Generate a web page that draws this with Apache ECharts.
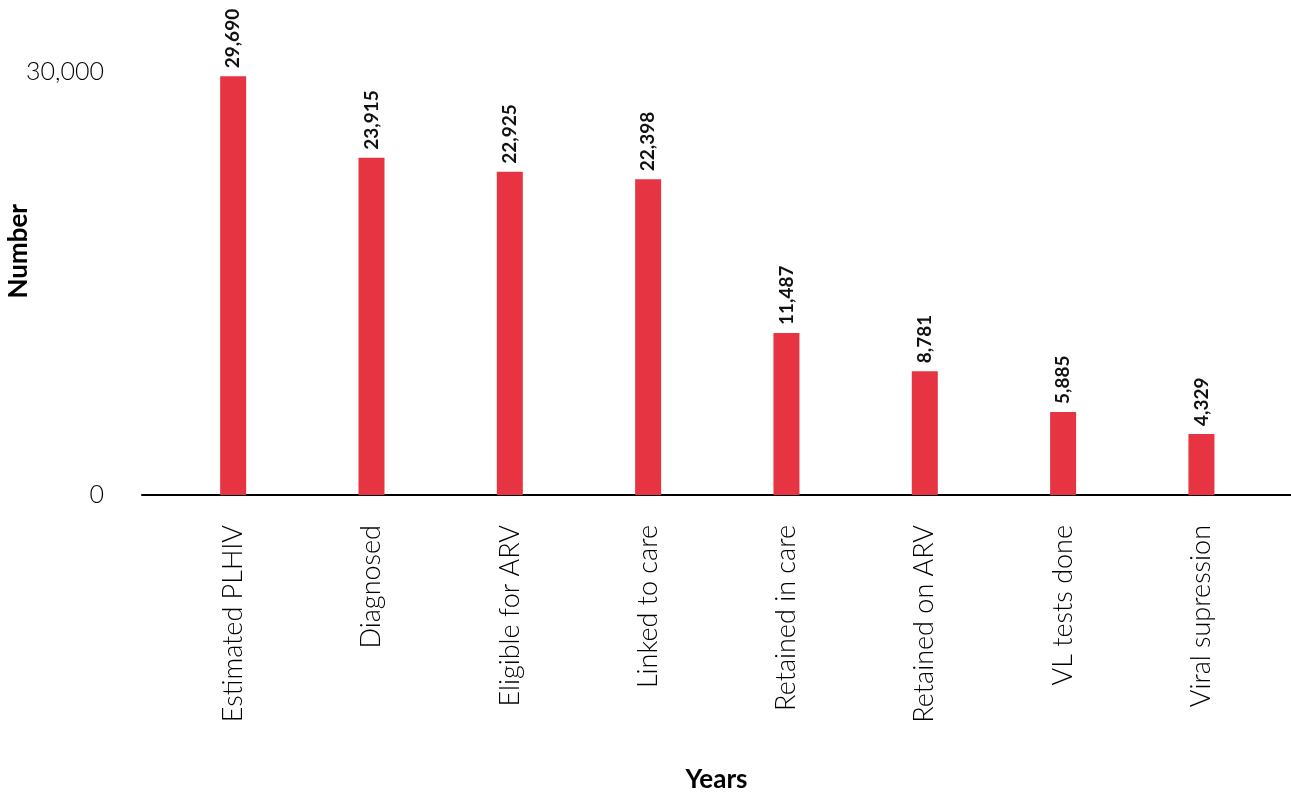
<!DOCTYPE html>
<html>
<head>
<meta charset="utf-8">
<script src="https://cdn.jsdelivr.net/npm/echarts@6/dist/echarts.min.js"></script>
<style>
  html, body { margin: 0; padding: 0; background: #ffffff; }
  #chart { width: 1291px; height: 792px; }
</style>
</head>
<body>
<div id="chart"></div>
<script>
// HIV care cascade: number of people at each stage
const categories = [
  'Estimated PLHIV', 'Diagnosed', 'Eligible for ARV', 'Linked to care',
  'Retained in care', 'Retained on ARV', 'VL tests done', 'Viral supression'
];
const values = [29690, 23915, 22925, 22398, 11487, 8781, 5885, 4329];
const yMin = 0;
const yMax = 30000;

const fontFamily = 'Lato, "Noto Sans", sans-serif';
const fmt = v => v.toLocaleString('en-US');

const chart = echarts.init(document.getElementById('chart'));
chart.setOption({
  animation: false,
  grid: [
    { left: 164, right: 20.4, top: 72, bottom: 297, containLabel: false, outerBoundsMode: 'none' },
    { left: 142, right: 0, top: 72, bottom: 297, containLabel: false, outerBoundsMode: 'none' }
  ],
  xAxis: [
    {
      type: 'category', gridIndex: 0, data: categories,
      axisLine: { show: false }, axisTick: { show: false },
      axisLabel: {
        rotate: 90, margin: 30, interval: 0,
        fontFamily, fontSize: 27, fontWeight: 300, color: '#000'
      }
    },
    {
      type: 'value', gridIndex: 1, min: 0, max: 1,
      axisLine: { show: true, onZero: false, lineStyle: { color: '#000', width: 2 } },
      axisTick: { show: false }, axisLabel: { show: false }, splitLine: { show: false },
      name: 'Years', nameLocation: 'middle', nameGap: 272,
      nameTextStyle: { fontFamily, fontSize: 26, fontWeight: 'bold', color: '#000' }
    }
  ],
  yAxis: [
    {
      type: 'value', gridIndex: 0, min: yMin, max: yMax, interval: yMax,
      axisLine: { show: false }, axisTick: { show: false }, splitLine: { show: false },
      axisLabel: {
        margin: 60, fontFamily, fontSize: 25, fontWeight: 300, color: '#000',
        formatter: v => fmt(v)
      }
    },
    {
      type: 'value', gridIndex: 1, min: 0, max: 1, show: false
    }
  ],
  graphic: [
    {
      type: 'text', left: 6, top: 204, rotation: Math.PI / 2,
      style: {
        text: 'Number', fontFamily, fontSize: 26, fontWeight: 'bold', fill: '#000'
      }
    }
  ],
  series: [
    {
      type: 'bar', xAxisIndex: 0, yAxisIndex: 0,
      data: values, barWidth: 26,
      itemStyle: { color: '#E63442' },
      label: {
        show: true, position: 'top', rotate: 90, distance: 8,
        align: 'left', verticalAlign: 'middle',
        fontFamily, fontSize: 19, fontWeight: 'bold', color: '#111',
        formatter: p => fmt(p.value)
      }
    }
  ]
});
</script>
</body>
</html>
